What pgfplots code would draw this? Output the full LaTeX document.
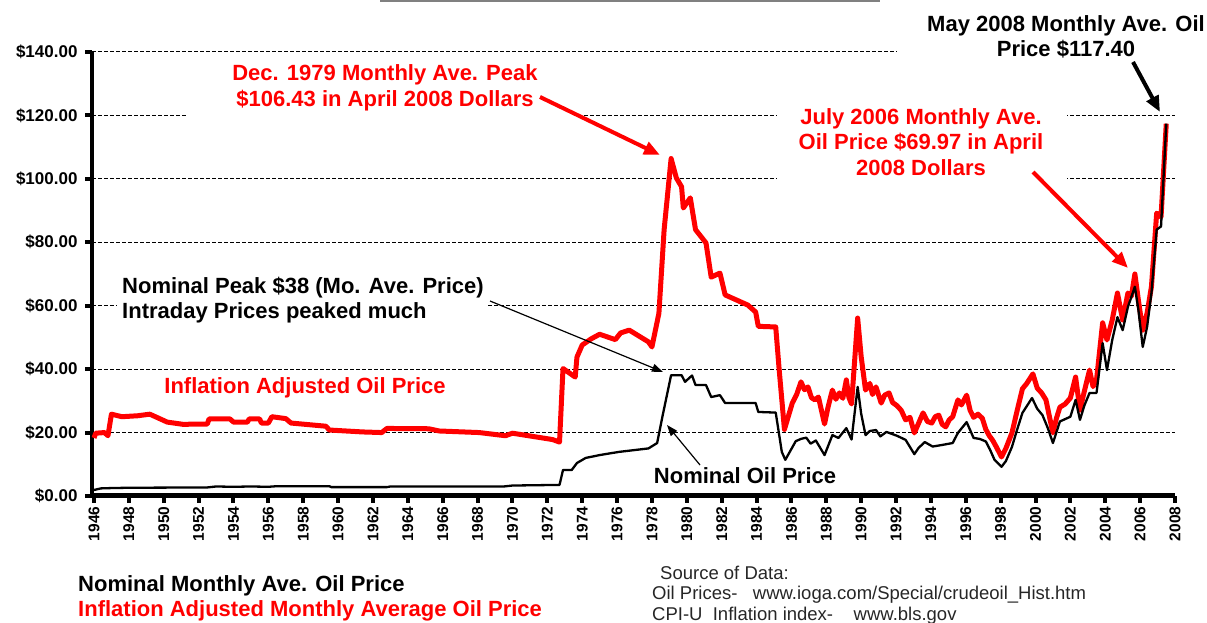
\documentclass[border=0pt]{standalone}
\usepackage{fontspec}
\setmainfont{Liberation Sans}
\usepackage{pgfplots}
\pgfplotsset{compat=1.18}
\usetikzlibrary{arrows.meta}
\definecolor{ored}{RGB}{255,0,0}
\newcommand\bigf{\fontsize{22}{25.5}\selectfont\bfseries}
\begin{document}
\begin{tikzpicture}[x=1pt,y=1pt]
\path[use as bounding box] (0,0) rectangle (1207,623);
\draw[gray, line width=2pt] (380,621.8) -- (880,621.8);
\begin{axis}[at={(92pt,127pt)}, anchor=south west, scale only axis,
  width=1083pt, height=444pt,
  xmin=1945.885, xmax=2008, ymin=0, ymax=140,
  axis x line*=bottom, axis y line*=left,
  x axis line style={line width=5pt,-}, y axis line style={line width=4.5pt,-},
  xtick={1946,1948,1950,1952,1954,1956,1958,1960,1962,1964,1966,1968,1970,1972,1974,1976,1978,1980,1982,1984,1986,1988,1990,1992,1994,1996,1998,2000,2002,2004,2006,2008},
  xticklabels={1946,1948,1950,1952,1954,1956,1958,1960,1962,1964,1966,1968,1970,1972,1974,1976,1978,1980,1982,1984,1986,1988,1990,1992,1994,1996,1998,2000,2002,2004,2006,2008},
  ytick={0,20,40,60,80,100,120,140},
  yticklabels={\$0.00,\$20.00,\$40.00,\$60.00,\$80.00,\$100.00,\$120.00,\$140.00},
  tick align=outside, major tick length=7pt,
  every tick/.style={black, line width=4pt},
  xticklabel style={rotate=90, anchor=east, font=\fontsize{15.5}{15.5}\selectfont\bfseries},
  yticklabel style={font=\fontsize{17}{17}\selectfont\bfseries, xshift=-4pt},
  ymajorgrids, xmajorgrids=false,
  grid style={black, line width=1pt, dash pattern=on 4pt off 2pt},
]
\addplot[ored, line width=5pt, line join=round] coordinates {
(1946.0,18.3)(1946.1,19.8)(1946.6,20.0)(1946.8,19.0)(1947.0,25.8)(1947.6,25.0)(1948.5,25.3)(1949.2,25.8)
(1950.2,23.3)(1951.1,22.6)(1952.5,22.7)(1952.6,24.3)(1953.8,24.3)(1954.0,23.3)(1954.8,23.3)(1954.9,24.3)
(1955.5,24.3)(1955.6,23.0)(1956.0,23.0)(1956.2,25.0)(1957.0,24.4)(1957.3,23.0)(1959.3,22.0)(1959.5,20.8)
(1961.4,20.2)(1962.5,20.0)(1962.8,21.3)(1965.2,21.2)(1965.8,20.5)(1968.1,20.0)(1969.6,19.0)(1970.0,19.8)
(1972.3,17.8)(1972.7,17.0)(1972.9,40.2)(1973.6,37.5)(1973.7,43.8)(1974.0,47.6)(1974.5,49.5)(1975.0,51.0)
(1975.9,49.3)(1976.2,51.4)(1976.7,52.3)(1977.8,48.6)(1978.0,47.0)(1978.4,57.6)(1978.7,84.0)(1979.1,106.4)
(1979.4,100.3)(1979.7,97.5)(1979.8,90.8)(1980.2,94.0)(1980.5,84.0)(1981.1,79.8)(1981.4,69.0)(1981.9,70.3)
(1982.2,63.4)(1983.5,60.2)(1983.95,58.0)(1984.1,53.5)(1985.1,53.3)(1985.3,39.7)(1985.6,21.0)(1986.05,29.3)
(1986.3,32.0)(1986.55,36.0)(1986.75,33.5)(1986.95,34.4)(1987.15,31.0)(1987.35,30.3)(1987.55,31.2)(1987.9,22.7)
(1988.1,28.0)(1988.35,33.4)(1988.55,30.5)(1988.75,32.5)(1988.95,30.8)(1989.15,36.6)(1989.3,31.0)
(1989.45,29.0)(1989.8,56.1)(1990.0,44.0)(1990.25,33.4)(1990.5,35.5)(1990.65,32.0)(1990.85,34.4)(1991.15,29.3)
(1991.35,31.8)(1991.6,32.5)(1991.8,29.5)(1992.05,28.5)(1992.3,27.0)(1992.55,24.0)(1992.8,24.8)
(1993.05,19.9)(1993.3,23.0)(1993.55,26.2)(1993.8,23.5)(1994.05,23.0)(1994.25,25.0)(1994.45,25.5)(1994.65,22.6)(1994.85,21.8)
(1995.05,24.0)(1995.25,25.0)(1995.55,30.3)(1995.75,28.7)
(1996.05,31.8)(1996.25,27.0)(1996.45,24.8)(1996.7,25.8)(1996.95,24.5)(1997.15,21.0)(1997.35,19.0)(1997.55,17.5)(1997.75,15.5)(1998.05,12.3)
(1998.3,15.0)(1998.65,19.9)(1998.95,27.0)(1999.25,33.8)(1999.5,35.5)
(1999.85,38.5)(2000.1,34.0)(2000.35,32.5)(2000.6,30.3)(2000.8,25.0)(2001.0,19.9)(2001.2,24.5)(2001.4,28.0)(2001.7,29.0)(2002.0,30.9)(2002.3,37.5)(2002.55,27.1)
(2002.8,33.0)(2003.1,39.7)(2003.3,34.5)(2003.5,36.6)(2003.85,54.6)(2004.1,49.2)(2004.4,55.5)(2004.7,64.0)(2005.0,55.5)(2005.3,64.0)
(2005.5,63.0)(2005.7,70.0)(2005.9,61.8)(2006.15,52.3)(2006.4,57.7)(2006.65,66.0)(2006.95,89.2)(2007.2,88.0)(2007.5,117.4)
};
\addplot[black, line width=2.3pt, line join=round] coordinates {
(1946.0,1.9)(1946.4,2.4)(1947.0,2.5)(1948.0,2.6)(1952.5,2.7)(1953.0,3.0)(1954.0,2.9)(1955.0,3.0)(1956.0,2.9)
(1956.5,3.1)(1959.5,3.1)(1959.6,2.8)(1962.8,2.8)(1963.0,3.0)(1969.5,3.0)(1970.0,3.3)(1972.7,3.5)(1972.9,8.2)
(1973.4,8.2)(1973.7,10.4)(1974.2,12.0)(1975.0,12.9)(1976.1,13.9)(1977.8,15.0)(1978.3,16.7)(1978.6,25.0)
(1979.1,38.1)(1979.7,38.1)(1979.9,36.0)(1980.3,38.0)(1980.5,35.0)(1981.1,35.0)(1981.4,31.2)(1981.9,31.8)
(1982.2,29.3)(1983.95,29.3)(1984.1,26.5)(1985.1,26.3)(1985.45,13.9)(1985.65,11.4)(1986.25,17.3)(1986.55,18.0)(1986.85,18.4)
(1987.1,16.5)(1987.4,17.5)(1987.9,12.9)(1988.35,19.2)(1988.7,18.3)(1989.15,21.4)(1989.45,17.8)(1989.8,34.4)(1990.0,26.0)(1990.25,19.2)(1990.5,20.5)(1990.85,20.8)(1991.1,18.8)(1991.45,20.2)
(1992.05,19.0)(1992.55,17.7)(1993.05,13.2)(1993.3,15.2)(1993.65,17.0)(1994.1,15.6)(1994.55,16.0)(1995.25,16.7)(1995.55,19.9)(1996.05,23.3)
(1996.45,18.3)(1996.8,18.0)(1997.15,17.2)(1997.4,14.5)(1997.65,11.4)(1998.05,9.2)(1998.3,11.0)(1998.65,15.5)(1998.95,21.0)(1999.25,26.2)(1999.8,30.9)(2000.1,27.5)(2000.4,25.5)
(2000.7,21.5)(2001.0,16.7)(2001.4,23.5)(2002.0,25.0)(2002.3,30.3)(2002.55,24.0)(2002.8,28.5)(2003.1,32.5)(2003.5,32.5)(2003.85,48.2)
(2004.1,39.7)(2004.4,49.2)(2004.7,56.4)(2005.0,52.3)(2005.3,59.6)(2005.7,66.0)(2005.9,58.7)(2006.15,47.0)
(2006.4,53.3)(2006.65,64.0)(2006.95,84.0)(2007.2,85.0)(2007.5,117.4)
};
\end{axis}
% white boxes hiding grid lines behind annotations
\fill[white] (187,501) rectangle (582,563);
\fill[white] (897,561) rectangle (1207,618);
\fill[white] (777,438) rectangle (1067,523);
\fill[white] (117,300) rectangle (487,351);
% annotations
\node[text=ored, align=center, font=\bigf, inner sep=0] at (385,535) {Dec. 1979 Monthly Ave. Peak\\\$106.43 in April 2008 Dollars};
\node[align=center, font=\bigf, inner sep=0] at (1066,586) {May 2008 Monthly Ave. Oil\\Price \$117.40};
\node[text=ored, align=center, font=\bigf, inner sep=0] at (921,481) {July 2006 Monthly Ave.\\Oil Price \$69.97 in April\\2008 Dollars};
\node[anchor=west, align=left, font=\bigf, inner sep=0] at (122,323) {Nominal Peak \$38 (Mo. Ave. Price)\\Intraday Prices peaked much};
\node[text=ored, font=\bigf, inner sep=0] at (305,235) {Inflation Adjusted Oil Price};
\node[font=\bigf, inner sep=0] at (745,147) {Nominal Oil Price};
\node[anchor=west, font=\bigf, inner sep=0] at (78,37) {Nominal Monthly Ave. Oil Price};
\node[anchor=west, text=ored, font=\bigf, inner sep=0] at (78,12) {Inflation Adjusted Monthly Average Oil Price};
\node[anchor=west, font=\fontsize{18.5}{21}\selectfont, inner sep=0, text=black!85] at (660,50) {Source of Data:};
\node[anchor=west, font=\fontsize{18.5}{21}\selectfont, inner sep=0, text=black!85] at (652,28) {Oil Prices-\ \ \ www.ioga.com/Special/crudeoil\_Hist.htm};
\node[anchor=west, font=\fontsize{18.5}{21}\selectfont, inner sep=0, text=black!85] at (652,7) {CPI-U\ \ Inflation index-\ \ \ \ www.bls.gov};
% arrows
\draw[ored, line width=4pt, -{Triangle[length=16pt,width=13pt]}] (540,526) -- (660,468);
\draw[black, line width=4pt, -{Triangle[length=16pt,width=13pt]}] (1133,561) -- (1160,511);
\draw[ored, line width=4pt, -{Triangle[length=16pt,width=13pt]}] (1033,451) -- (1128,355);
\draw[black, line width=1.2pt, -{Triangle[length=11pt,width=8pt]}] (490,322) -- (663,251);
\draw[black, line width=1.2pt, -{Triangle[length=11pt,width=8pt]}] (700,158) -- (667,198);
\end{tikzpicture}
\end{document}
